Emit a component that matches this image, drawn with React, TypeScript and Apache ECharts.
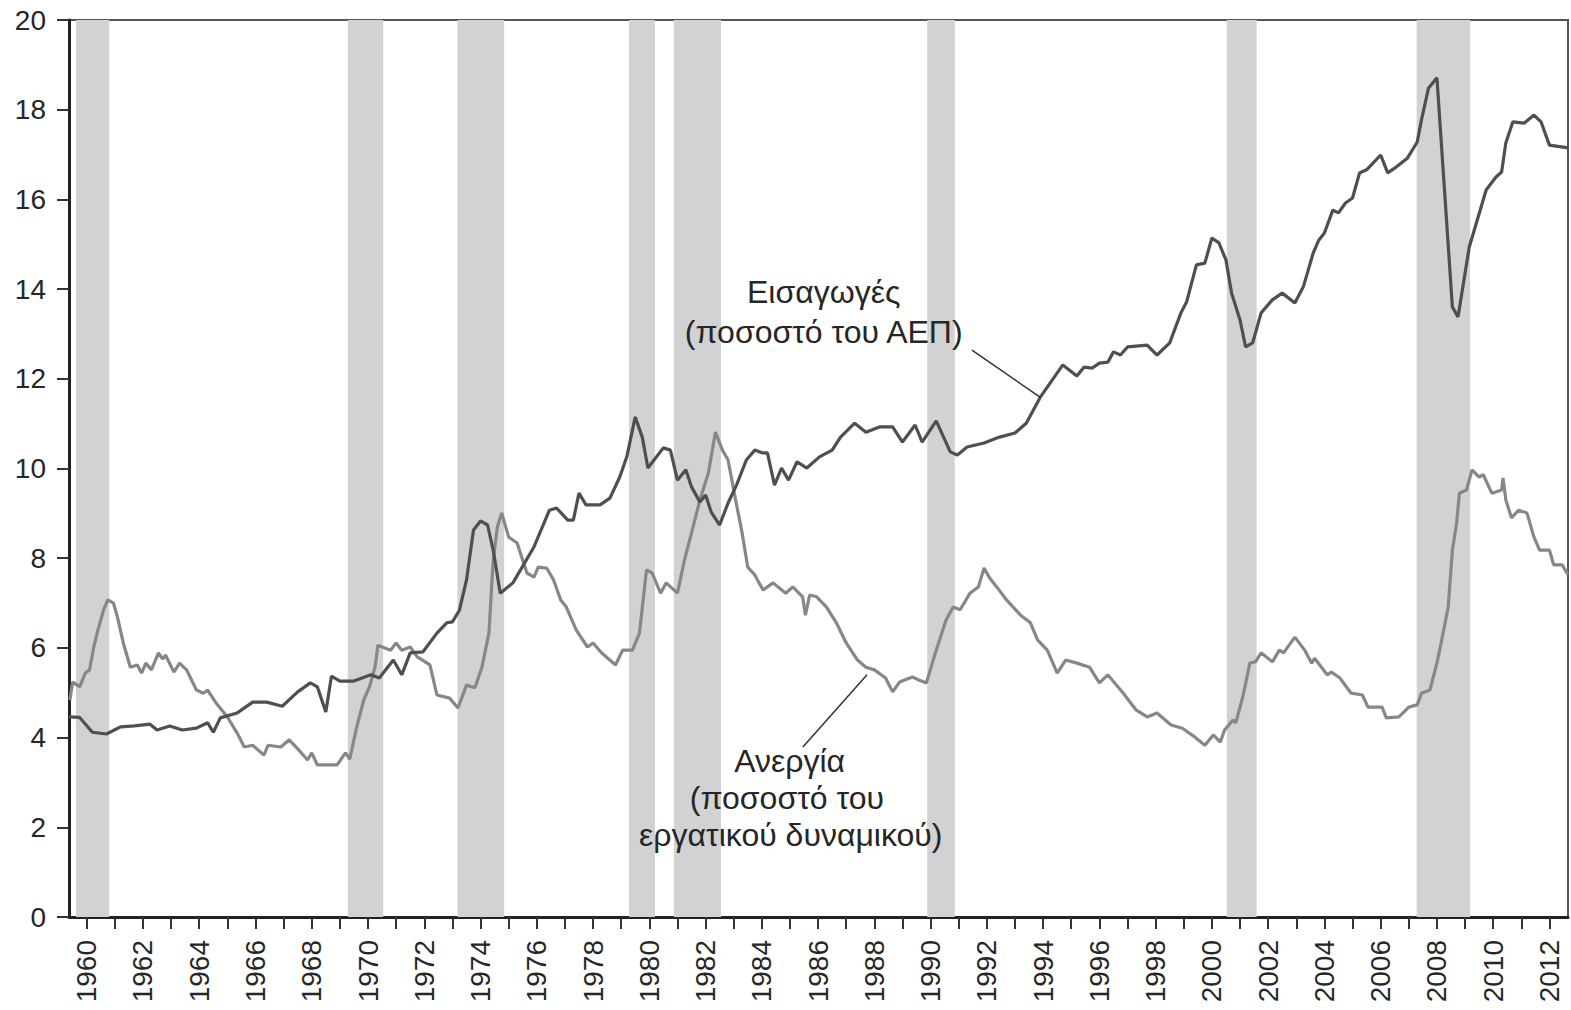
import React, { useEffect, useRef } from "react";
import * as echarts from "echarts";

// Imports (percent of GDP)
const importYears = [
  1959.37, 1959.75, 1960.2, 1960.7, 1961.2, 1961.7, 1962.25, 1962.5, 1962.95, 1963.4, 1963.9,
  1964.3, 1964.5, 1964.75, 1965.35, 1965.9, 1966.4, 1966.95, 1967.5, 1967.95, 1968.2, 1968.5,
  1968.7, 1969.0, 1969.5, 1970.1, 1970.4, 1970.9, 1971.2, 1971.5, 1971.95, 1972.45, 1972.8,
  1973.0, 1973.25, 1973.5, 1973.75, 1974.0, 1974.25, 1974.45, 1974.7, 1975.15, 1975.9, 1976.45,
  1976.7, 1977.1, 1977.3, 1977.5, 1977.75, 1978.25, 1978.6, 1978.95, 1979.2, 1979.5, 1979.75,
  1979.95, 1980.5, 1980.75, 1981.0, 1981.3, 1981.5, 1981.8, 1982.0, 1982.2, 1982.5, 1982.8,
  1983.1, 1983.45, 1983.75, 1984.0, 1984.2, 1984.45, 1984.7, 1984.95, 1985.25, 1985.6, 1986.05,
  1986.5, 1986.8, 1987.3, 1987.7, 1988.2, 1988.65, 1989.0, 1989.45, 1989.7, 1990.2, 1990.7,
  1990.95, 1991.3, 1991.9, 1992.45, 1993.0, 1993.4, 1993.9, 1994.7, 1995.2, 1995.45, 1995.75,
  1996.0, 1996.3, 1996.5, 1996.75, 1997.0, 1997.7, 1998.05, 1998.5, 1998.9, 1999.1, 1999.45,
  1999.75, 2000.0, 2000.25, 2000.5, 2000.7, 2001.0, 2001.2, 2001.45, 2001.75, 2002.15, 2002.5,
  2002.95, 2003.25, 2003.6, 2003.8, 2004.0, 2004.3, 2004.5, 2004.75, 2005.0, 2005.25, 2005.5,
  2006.0, 2006.25, 2006.55, 2006.95, 2007.3, 2007.45, 2007.7, 2008.0, 2008.55, 2008.75, 2009.15,
  2009.75, 2010.1, 2010.3, 2010.45, 2010.7, 2011.1, 2011.45, 2011.7, 2012.0, 2012.66,
];
const importValues = [
  4.46, 4.45, 4.12, 4.08, 4.24, 4.26, 4.3, 4.17, 4.26, 4.17, 4.21,
  4.33, 4.12, 4.44, 4.55, 4.79, 4.79, 4.7, 5.02, 5.22, 5.13, 4.57,
  5.37, 5.26, 5.26, 5.4, 5.33, 5.73, 5.4, 5.89, 5.91, 6.33, 6.56,
  6.58, 6.84, 7.51, 8.63, 8.83, 8.74, 8.18, 7.22, 7.45, 8.25, 9.07,
  9.12, 8.85, 8.85, 9.45, 9.19, 9.19, 9.34, 9.81, 10.26, 11.15, 10.7,
  10.01, 10.46, 10.41, 9.74, 9.97, 9.59, 9.25, 9.41, 9.03, 8.74, 9.23,
  9.63, 10.19, 10.41, 10.35, 10.35, 9.63, 10.01, 9.74, 10.15, 10.01, 10.26,
  10.41, 10.7, 11.01, 10.81, 10.93, 10.93, 10.59, 10.97, 10.59, 11.06, 10.37,
  10.3, 10.48, 10.57, 10.7, 10.79, 11.01, 11.59, 12.31, 12.06, 12.26, 12.24,
  12.35, 12.37, 12.6, 12.53, 12.71, 12.75, 12.53, 12.8, 13.47, 13.71, 14.54,
  14.58, 15.14, 15.03, 14.65, 13.91, 13.31, 12.71, 12.8, 13.47, 13.76, 13.91,
  13.69, 14.05, 14.8, 15.09, 15.25, 15.76, 15.7, 15.92, 16.03, 16.59, 16.66,
  16.99, 16.59, 16.72, 16.92, 17.28, 17.77, 18.48, 18.71, 13.6, 13.38, 14.94,
  16.21, 16.5, 16.61, 17.26, 17.73, 17.7, 17.88, 17.73, 17.21, 17.15,
];

// Unemployment (percent of labour force)
const unempYears = [
  1959.4, 1959.5, 1959.75, 1959.95, 1960.1, 1960.25, 1960.4, 1960.6, 1960.75, 1960.95, 1961.1,
  1961.3, 1961.55, 1961.8, 1961.95, 1962.1, 1962.3, 1962.55, 1962.7, 1962.8, 1963.1, 1963.3,
  1963.55, 1963.9, 1964.15, 1964.3, 1964.6, 1965.0, 1965.35, 1965.6, 1965.9, 1966.3, 1966.45,
  1966.9, 1967.2, 1967.6, 1967.85, 1968.0, 1968.2, 1968.9, 1969.2, 1969.35, 1969.6, 1969.85,
  1970.05, 1970.25, 1970.35, 1970.8, 1971.0, 1971.2, 1971.5, 1971.75, 1972.2, 1972.45, 1972.9,
  1973.2, 1973.5, 1973.8, 1974.05, 1974.3, 1974.45, 1974.6, 1974.75, 1975.0, 1975.3, 1975.65,
  1975.9, 1976.05, 1976.35, 1976.6, 1976.85, 1977.05, 1977.4, 1977.8, 1978.0, 1978.3, 1978.8,
  1979.05, 1979.4, 1979.65, 1979.9, 1980.1, 1980.4, 1980.6, 1981.0, 1981.25, 1981.5, 1981.8,
  1982.1, 1982.35, 1982.6, 1982.8, 1983.05, 1983.3, 1983.5, 1983.75, 1983.9, 1984.05, 1984.4,
  1984.85, 1985.1, 1985.45, 1985.55, 1985.7, 1985.95, 1986.3, 1986.65, 1987.0, 1987.4, 1987.7,
  1988.0, 1988.4, 1988.65, 1988.9, 1989.35, 1989.6, 1989.85, 1990.2, 1990.55, 1990.8, 1991.05,
  1991.4, 1991.7, 1991.9, 1992.1, 1992.35, 1992.7, 1993.2, 1993.55, 1993.8, 1994.15, 1994.5,
  1994.8, 1995.2, 1995.65, 1996.0, 1996.3, 1996.85, 1997.3, 1997.7, 1998.05, 1998.55, 1998.95,
  1999.4, 1999.75, 2000.05, 2000.3, 2000.45, 2000.75, 2000.85, 2001.1, 2001.35, 2001.55, 2001.75,
  2002.15, 2002.4, 2002.55, 2002.95, 2003.3, 2003.55, 2003.65, 2004.1, 2004.25, 2004.55, 2004.95,
  2005.35, 2005.55, 2006.05, 2006.2, 2006.65, 2007.0, 2007.3, 2007.45, 2007.75, 2008.0, 2008.15,
  2008.4, 2008.55, 2008.7, 2008.8, 2009.05, 2009.25, 2009.5, 2009.65, 2009.95, 2010.3, 2010.35,
  2010.45, 2010.65, 2010.9, 2011.2, 2011.45, 2011.65, 2012.0, 2012.15, 2012.45, 2012.66,
];
const unempValues = [
  4.84, 5.24, 5.13, 5.44, 5.51, 6.02, 6.4, 6.85, 7.07, 7.0, 6.67,
  6.11, 5.57, 5.62, 5.44, 5.66, 5.51, 5.89, 5.75, 5.84, 5.46, 5.66,
  5.51, 5.06, 4.99, 5.06, 4.77, 4.46, 4.1, 3.79, 3.83, 3.61, 3.83,
  3.79, 3.95, 3.68, 3.5, 3.66, 3.39, 3.39, 3.66, 3.52, 4.24, 4.84,
  5.13, 5.57, 6.06, 5.95, 6.11, 5.95, 6.02, 5.8, 5.62, 4.95, 4.88,
  4.66, 5.17, 5.11, 5.57, 6.33, 7.96, 8.7, 9.01, 8.47, 8.34, 7.67,
  7.58, 7.8, 7.78, 7.51, 7.07, 6.91, 6.4, 6.02, 6.11, 5.89, 5.62,
  5.95, 5.95, 6.33, 7.74, 7.67, 7.22, 7.45, 7.22, 7.96, 8.56, 9.3,
  9.9, 10.81, 10.41, 10.19, 9.36, 8.56, 7.8, 7.63, 7.45, 7.29, 7.45,
  7.22, 7.36, 7.14, 6.73, 7.18, 7.14, 6.91, 6.56, 6.11, 5.73, 5.57,
  5.51, 5.33, 5.02, 5.24, 5.35, 5.28, 5.22, 5.95, 6.62, 6.91, 6.85,
  7.22, 7.36, 7.78, 7.56, 7.36, 7.07, 6.73, 6.56, 6.18, 5.95, 5.44,
  5.73, 5.66, 5.57, 5.22, 5.4, 4.99, 4.62, 4.46, 4.55, 4.28, 4.21,
  4.01, 3.83, 4.06, 3.9, 4.17, 4.39, 4.33, 4.91, 5.66, 5.69, 5.89,
  5.69, 5.95, 5.89, 6.24, 5.95, 5.66, 5.77, 5.4, 5.46, 5.33, 4.99,
  4.95, 4.68, 4.68, 4.44, 4.46, 4.68, 4.73, 4.99, 5.06, 5.66, 6.11,
  6.91, 8.18, 8.78, 9.45, 9.52, 9.97, 9.81, 9.86, 9.45, 9.52, 9.79,
  9.3, 8.9, 9.07, 9.01, 8.47, 8.18, 8.18, 7.85, 7.85, 7.63,
];

// Recession periods (shaded bands)
const recessionStarts = [1959.62, 1969.28, 1973.18, 1979.28, 1980.87, 1989.88, 2000.53, 2007.28];
const recessionEnds = [1960.8, 1970.54, 1974.84, 1980.2, 1982.55, 1990.86, 2001.59, 2009.18];

// Axis ticks
const tickYears: number[] = [];
for (let y = 1960; y <= 2012; y++) tickYears.push(y);
const labelYears = tickYears.filter((y) => y % 2 === 0);
const yTicks = [0, 2, 4, 6, 8, 10, 12, 14, 16, 18, 20];

// Annotation texts
const importsLabel = ["Εισαγωγές", "(ποσοστό του ΑΕΠ)"];
const unempLabel = ["Ανεργία", "(ποσοστό του", "εργατικού δυναμικού)"];

const FONT = "'Liberation Sans', Arial, Helvetica, sans-serif";
const TEXT = "#262626";

export default function App() {
  const ref = useRef<HTMLDivElement>(null);
  useEffect(() => {
    if (!ref.current) return;
    const chart = echarts.init(ref.current, null, { renderer: "svg" });
    const imports = importYears.map((x, i) => [x, importValues[i]]);
    const unemp = unempYears.map((x, i) => [x, unempValues[i]]);
    chart.setOption({
      animation: false,
      backgroundColor: "#ffffff",
      grid: {
        left: 69,
        right: 3,
        top: 20,
        bottom: 93,
        show: true,
        borderColor: "#555",
        borderWidth: 2,
        outerBoundsMode: "none",
      },
      xAxis: {
        type: "value",
        min: 1959.37,
        max: 2012.66,
        splitLine: { show: false },
        axisLine: { show: true, onZero: false, lineStyle: { color: "#222", width: 3 } },
        axisTick: {
          show: true,
          length: 12,
          customValues: tickYears,
          lineStyle: { color: "#333", width: 2 },
        },
        axisLabel: {
          customValues: labelYears,
          rotate: 90,
          fontSize: 28,
          fontFamily: FONT,
          color: TEXT,
          margin: 23,
          formatter: (v: number) => String(Math.round(v)),
        },
      },
      yAxis: {
        type: "value",
        min: 0,
        max: 20,
        interval: 2,
        splitLine: { show: false },
        axisLine: { show: true, lineStyle: { color: "#222", width: 3 } },
        axisTick: { show: true, length: 12, lineStyle: { color: "#333", width: 2 } },
        axisLabel: {
          fontSize: 28,
          fontFamily: FONT,
          color: TEXT,
          margin: 23,
          customValues: yTicks,
        },
      },
      series: [
        {
          type: "line",
          name: "recessions",
          data: [],
          silent: true,
          z: 0,
          markArea: {
            silent: true,
            itemStyle: { color: "#d1d2d4" },
            data: recessionStarts.map((s, i) => [{ xAxis: s }, { xAxis: recessionEnds[i] }]),
          },
        },
        {
          type: "line",
          name: "Ανεργία",
          data: unemp,
          showSymbol: false,
          symbol: "none",
          z: 3,
          lineStyle: { color: "#878787", width: 3.2 },
        },
        {
          type: "line",
          name: "Εισαγωγές",
          data: imports,
          showSymbol: false,
          symbol: "none",
          z: 4,
          lineStyle: { color: "#4f4f4f", width: 3.2 },
        },
      ],
    });

    const px = (x: number, y: number) => chart.convertToPixel({ gridIndex: 0 }, [x, y]) as number[];
    const texts: any[] = [];
    const addText = (s: string, x: number, y: number) => {
      const p = px(x, y);
      texts.push({
        type: "text",
        x: p[0],
        y: p[1],
        z: 100,
        silent: true,
        style: {
          text: s,
          fontSize: 32,
          fontFamily: FONT,
          fill: TEXT,
          textAlign: "center",
          textVerticalAlign: "middle",
        },
      });
    };
    addText(importsLabel[0], 1986.2, 13.94);
    addText(importsLabel[1], 1986.2, 13.05);
    addText(unempLabel[0], 1984.99, 3.48);
    addText(unempLabel[1], 1984.89, 2.65);
    addText(unempLabel[2], 1985.03, 1.83);
    const lines: any[] = [];
    const addLine = (x1: number, y1: number, x2: number, y2: number) => {
      const a = px(x1, y1);
      const b = px(x2, y2);
      lines.push({
        type: "line",
        silent: true,
        z: 100,
        shape: { x1: a[0], y1: a[1], x2: b[0], y2: b[1] },
        style: { stroke: "#333", lineWidth: 1.5 },
      });
    };
    addLine(1991.47, 12.64, 1993.89, 11.59);
    addLine(1985.46, 3.79, 1987.74, 5.4);
    chart.setOption({ graphic: { elements: [...texts, ...lines] } });

    return () => chart.dispose();
  }, []);
  return (
    <div
      ref={ref}
      style={{ position: "fixed", left: 0, top: 0, width: 1571, height: 1010, background: "#fff" }}
    />
  );
}
